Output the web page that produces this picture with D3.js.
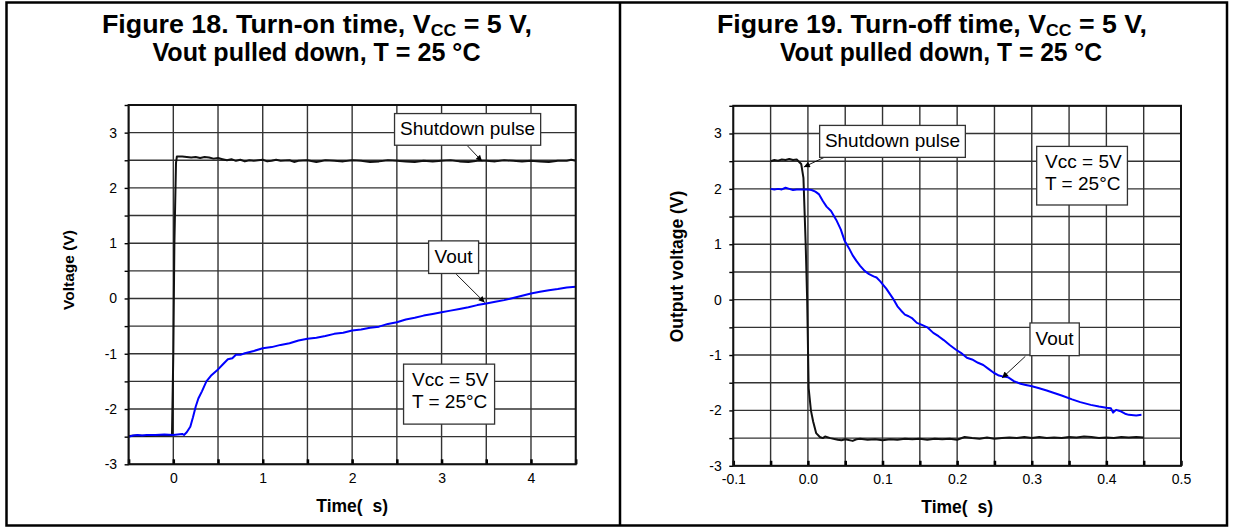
<!DOCTYPE html>
<html><head><meta charset="utf-8">
<script src="https://cdn.jsdelivr.net/npm/d3@7"></script>
<style>
body{margin:0;background:#fff}
svg{display:block}
text{font-family:"Liberation Sans",Arial,Helvetica,sans-serif}
</style></head>
<body><svg id="c" width="1237" height="527"></svg>
<script>
// ---------- DATA ----------
const yTickLabels = [-3, -2, -1, 0, 1, 2, 3];
const leftXTickLabels = [0, 1, 2, 3, 4];
const rightXTickLabels = [-0.1, 0.0, 0.1, 0.2, 0.3, 0.4, 0.5];

// Figure 18 (turn-on), time in µs
const leftShutT = [-0.5,-0.4,-0.3,-0.2,-0.1,-0.05,-0.015,0.0,0.012,0.03,0.04,0.1,0.15,0.2,0.25,0.3,0.35,0.4,0.45,0.5,0.55,0.6,0.65,0.7,0.75,0.8,0.85,0.9,0.95,1.0,1.05,1.1,1.15,1.2,1.3,1.35,1.4,1.5,1.6,1.7,1.8,1.9,2.0,2.1,2.2,2.3,2.4,2.5,2.6,2.7,2.8,2.9,3.0,3.1,3.2,3.3,3.4,3.5,3.6,3.7,3.8,3.9,4.0,4.1,4.2,4.3,4.4,4.45,4.5];
const leftShutV = [-2.49,-2.48,-2.49,-2.48,-2.48,-2.48,-2.47,-1.0,1.0,2.45,2.57,2.57,2.56,2.55,2.56,2.54,2.56,2.55,2.53,2.54,2.52,2.50,2.52,2.49,2.51,2.48,2.50,2.49,2.50,2.51,2.48,2.49,2.51,2.49,2.50,2.47,2.49,2.50,2.47,2.50,2.49,2.48,2.50,2.49,2.47,2.48,2.50,2.49,2.48,2.47,2.49,2.48,2.49,2.50,2.48,2.47,2.49,2.49,2.48,2.50,2.49,2.48,2.49,2.48,2.47,2.49,2.49,2.51,2.49];
const leftVoutT = [-0.5,-0.45,-0.4,-0.35,-0.3,-0.2,-0.1,0.0,0.05,0.1,0.12,0.15,0.19,0.22,0.25,0.28,0.32,0.37,0.42,0.49,0.55,0.61,0.66,0.7,0.75,0.8,0.9,1.0,1.1,1.2,1.3,1.4,1.5,1.6,1.7,1.8,1.9,2.0,2.1,2.2,2.3,2.4,2.5,2.6,2.7,2.8,2.9,3.0,3.1,3.2,3.3,3.4,3.5,3.6,3.7,3.8,3.9,4.0,4.1,4.2,4.3,4.4,4.5];
const leftVoutV = [-2.50,-2.48,-2.47,-2.48,-2.47,-2.47,-2.46,-2.47,-2.46,-2.45,-2.47,-2.42,-2.32,-2.15,-1.96,-1.81,-1.68,-1.50,-1.40,-1.30,-1.20,-1.10,-1.08,-1.02,-1.02,-0.99,-0.95,-0.90,-0.88,-0.84,-0.81,-0.76,-0.73,-0.71,-0.68,-0.64,-0.62,-0.58,-0.56,-0.53,-0.51,-0.46,-0.43,-0.38,-0.35,-0.31,-0.28,-0.25,-0.22,-0.19,-0.16,-0.12,-0.09,-0.06,-0.03,0.01,0.05,0.09,0.12,0.15,0.17,0.20,0.21];

// Figure 19 (turn-off)
const rightShutT = [-0.05,-0.045,-0.04,-0.035,-0.03,-0.025,-0.02,-0.015,-0.009,-0.006,-0.003,-0.001,0.001,0.004,0.007,0.011,0.016,0.02,0.023,0.03,0.04,0.045,0.05,0.06,0.065,0.07,0.08,0.09,0.1,0.11,0.12,0.13,0.14,0.15,0.16,0.17,0.18,0.19,0.2,0.21,0.22,0.23,0.24,0.25,0.26,0.27,0.28,0.29,0.3,0.31,0.32,0.33,0.34,0.35,0.36,0.37,0.38,0.39,0.4,0.41,0.42,0.43,0.44,0.45];
const rightShutV = [2.50,2.52,2.51,2.53,2.52,2.54,2.52,2.53,2.45,2.20,1.00,0.00,-1.60,-2.00,-2.20,-2.41,-2.48,-2.50,-2.47,-2.50,-2.53,-2.54,-2.52,-2.55,-2.52,-2.51,-2.53,-2.52,-2.54,-2.52,-2.53,-2.51,-2.52,-2.51,-2.53,-2.51,-2.52,-2.51,-2.53,-2.48,-2.50,-2.51,-2.49,-2.51,-2.50,-2.49,-2.50,-2.48,-2.50,-2.48,-2.50,-2.49,-2.50,-2.48,-2.49,-2.47,-2.48,-2.50,-2.49,-2.50,-2.48,-2.49,-2.48,-2.49];
const rightVoutT = [-0.05,-0.045,-0.04,-0.035,-0.03,-0.025,-0.02,-0.015,-0.01,-0.005,0.0,0.005,0.01,0.015,0.02,0.025,0.031,0.038,0.044,0.049,0.055,0.06,0.065,0.07,0.076,0.082,0.088,0.092,0.097,0.1,0.105,0.11,0.115,0.12,0.125,0.13,0.135,0.14,0.146,0.152,0.16,0.168,0.175,0.182,0.19,0.198,0.205,0.213,0.22,0.228,0.235,0.242,0.249,0.256,0.262,0.268,0.276,0.285,0.292,0.299,0.31,0.32,0.329,0.34,0.354,0.365,0.379,0.39,0.4,0.406,0.409,0.413,0.418,0.425,0.43,0.44,0.447];
const rightVoutV = [2.00,1.99,2.00,1.99,2.02,2.00,1.98,1.99,1.99,1.99,1.99,1.98,1.95,1.90,1.78,1.68,1.60,1.44,1.27,1.07,0.93,0.80,0.70,0.61,0.52,0.46,0.42,0.40,0.33,0.28,0.20,0.10,0.00,-0.12,-0.20,-0.27,-0.30,-0.34,-0.42,-0.45,-0.50,-0.60,-0.66,-0.73,-0.82,-0.90,-0.96,-1.05,-1.08,-1.14,-1.18,-1.25,-1.32,-1.37,-1.39,-1.40,-1.47,-1.52,-1.54,-1.56,-1.60,-1.64,-1.68,-1.73,-1.80,-1.85,-1.90,-1.93,-1.95,-1.96,-2.04,-1.99,-2.01,-2.06,-2.08,-2.09,-2.08];

// ---------- DRAW ----------
const svg = d3.select("#c");
const yDomain = [-3, 3.5];
const hyphen = f => d => f(d).replace("\u2212", "-");

// outer frame
const frame = svg.append("g").attr("stroke", "#000").attr("stroke-width", 2.5).attr("fill", "none");
frame.append("rect").attr("x", 6.5).attr("y", 2.5).attr("width", 1220.5).attr("height", 523);
frame.append("line").attr("x1", 620).attr("x2", 620).attr("y1", 2.5).attr("y2", 525.5);

// arrow marker
svg.append("defs").append("marker").attr("id", "ah")
  .attr("viewBox", "0 0 10 10").attr("refX", 10).attr("refY", 5)
  .attr("markerWidth", 8).attr("markerHeight", 6).attr("markerUnits", "userSpaceOnUse")
  .attr("orient", "auto")
  .append("path").attr("d", "M0,0L10,5L0,10z").attr("fill", "#000");

function drawPanel(cfg) {
  const g = svg.append("g");
  const x = d3.scaleLinear().domain(cfg.xDomain).range([cfg.left, cfg.right]);
  const y = d3.scaleLinear().domain(yDomain).range([cfg.bottom, cfg.top]);

  // title
  const t = g.append("text").attr("font-weight", "bold").attr("font-size", 25).attr("fill", "#000")
    .attr("x", cfg.t1x).attr("y", 32.5).attr("text-anchor", "middle")
    .attr("textLength", cfg.t1w).attr("lengthAdjust", "spacingAndGlyphs");
  t.append("tspan").text(cfg.titleA + "V");
  t.append("tspan").attr("font-size", 16.5).attr("dy", 3.5).text("CC");
  t.append("tspan").attr("dy", -3.5).text(" = 5 V,");
  g.append("text").attr("font-weight", "bold").attr("font-size", 25)
    .attr("x", cfg.t2x).attr("y", 60.5).attr("text-anchor", "middle")
    .attr("textLength", cfg.t2w).attr("lengthAdjust", "spacingAndGlyphs")
    .text("Vout pulled down, T = 25 °C");

  // grid
  const gx = cfg.gridX, gy = d3.range(-3, 3.5001, 0.5);
  g.append("g").selectAll("line").data(gx).join("line")
    .attr("x1", d => x(d)).attr("x2", d => x(d)).attr("y1", cfg.top).attr("y2", cfg.bottom)
    .attr("stroke", "#333").attr("stroke-width", 1.4);
  g.append("g").selectAll("line").data(gy).join("line")
    .attr("x1", cfg.left).attr("x2", cfg.right).attr("y1", d => y(d)).attr("y2", d => y(d))
    .attr("stroke", "#333").attr("stroke-width", 1.4);

  // tick marks
  const tb = g.append("g").attr("transform", `translate(0,${cfg.bottom})`)
    .call(d3.axisBottom(x).tickValues(gx).tickSize(-5).tickFormat(""));
  tb.select(".domain").remove();
  tb.selectAll("line").attr("stroke", "#000").attr("stroke-width", 2.5);
  const tl = g.append("g").attr("transform", `translate(${cfg.left},0)`)
    .call(d3.axisLeft(y).tickValues(gy).tickSize(4).tickFormat(""));
  tl.select(".domain").remove();
  tl.selectAll("line").attr("stroke", "#000").attr("stroke-width", 1.4);

  // labels
  const lb = g.append("g").attr("transform", `translate(0,${cfg.bottom})`)
    .call(d3.axisBottom(x).tickValues(cfg.xLabels).tickSize(0).tickPadding(8.5).tickFormat(hyphen(cfg.xFmt)));
  lb.select(".domain").remove();
  lb.selectAll("text").attr("font-size", 14).attr("font-family", "Liberation Sans, Arial, sans-serif").attr("fill", "#000");
  const ll = g.append("g").attr("transform", `translate(${cfg.left},0)`)
    .call(d3.axisLeft(y).tickValues(yTickLabels).tickSize(0).tickPadding(11.5).tickFormat(hyphen(d3.format("d"))));
  ll.select(".domain").remove();
  ll.selectAll("text").attr("font-size", 14).attr("font-family", "Liberation Sans, Arial, sans-serif").attr("fill", "#000");

  // axis titles
  g.append("text").attr("font-weight", "bold").attr("font-size", 17.5)
    .attr("x", (cfg.left + cfg.right) / 2).attr("y", cfg.bottom + 47.5).attr("text-anchor", "middle")
    .style("white-space", "pre").text("Time(  s)");
  g.append("text").attr("font-weight", "bold").attr("font-size", cfg.yTitleSize)
    .attr("transform", `translate(${cfg.yTitleX},${cfg.yTitleY}) rotate(-90)`).attr("text-anchor", "middle")
    .text(cfg.yTitle);

  // curves
  const line = d3.line().x(d => x(d[0])).y(d => y(d[1]));
  cfg.series.forEach(s => {
    g.append("path").datum(d3.zip(s.t, s.v)).attr("d", line)
      .attr("fill", "none").attr("stroke", s.color).attr("stroke-width", 2).attr("stroke-linejoin", "round");
  });

  // plot frame
  g.append("rect").attr("x", cfg.left).attr("y", cfg.top)
    .attr("width", cfg.right - cfg.left).attr("height", cfg.bottom - cfg.top)
    .attr("fill", "none").attr("stroke", "#111").attr("stroke-width", 2);

  // annotations
  cfg.notes.forEach(n => {
    const x0 = x(n.box[0]), x1 = x(n.box[1]), y0 = y(n.box[3]), y1 = y(n.box[2]);
    if (n.arrow) {
      g.append("line").attr("x1", x(n.arrow[0])).attr("y1", y(n.arrow[1]))
        .attr("x2", x(n.arrow[2])).attr("y2", y(n.arrow[3]))
        .attr("stroke", "#000").attr("stroke-width", 0.9).attr("marker-end", "url(#ah)");
    }
    g.append("rect").attr("x", x0).attr("y", y0).attr("width", x1 - x0).attr("height", y1 - y0)
      .attr("fill", "#fff").attr("stroke", "#333").attr("stroke-width", 1.3);
    n.lines.forEach((txt, i) => {
      g.append("text").attr("font-size", 19).attr("fill", "#000")
        .attr("x", n.align === "start" ? x0 + 8.4 : (x0 + x1) / 2)
        .attr("y", y0 + 21.8 + i * 21.7)
        .attr("text-anchor", n.align || "middle").text(txt);
    });
  });
}

drawPanel({
  xDomain: [-0.5, 4.5], left: 128.6, right: 575.7, top: 105, bottom: 464.3,
  gridX: d3.range(-0.5, 4.5001, 0.5), xLabels: leftXTickLabels, xFmt: d3.format("d"),
  titleA: "Figure 18. Turn-on time, ", t1x: 317, t1w: 430, t2x: 316.5, t2w: 328,
  yTitle: "Voltage (V)", yTitleSize: 15.5, yTitleX: 74, yTitleY: 270,
  series: [
    { t: leftShutT, v: leftShutV, color: "#111" },
    { t: leftVoutT, v: leftVoutV, color: "#0000ff" }
  ],
  notes: [
    { lines: ["Shutdown pulse"], box: [2.474, 4.108, 2.772, 3.345], arrow: [3.291, 2.759, 3.452, 2.483] },
    { lines: ["Vout"], box: [2.855, 3.414, 0.452, 1.042], arrow: [3.164, 0.439, 3.482, -0.072] },
    { lines: ["Vcc = 5V", "T = 25°C"], box: [2.575, 3.593, -2.273, -1.188], align: "start" }
  ]
});

drawPanel({
  xDomain: [-0.1, 0.5], left: 733.3, right: 1181, top: 105.8, bottom: 465.8,
  gridX: d3.range(-0.1, 0.5001, 0.05), xLabels: rightXTickLabels, xFmt: d3.format(".1f"),
  titleA: "Figure 19. Turn-off time, ", t1x: 932, t1w: 430, t2x: 941, t2w: 322,
  yTitle: "Output voltage (V)", yTitleSize: 17.5, yTitleX: 682.5, yTitleY: 266.5,
  series: [
    { t: rightShutT, v: rightShutV, color: "#111" },
    { t: rightVoutT, v: rightVoutV, color: "#0000ff" }
  ],
  notes: [
    { lines: ["Shutdown pulse"], box: [0.0157, 0.211, 2.569, 3.146], arrow: [0.0247, 2.587, -0.0054, 2.395] },
    { lines: ["Vcc = 5V", "T = 25°C"], box: [0.3066, 0.4282, 1.709, 2.767], align: "start" },
    { lines: ["Vout"], box: [0.2976, 0.3637, -1.011, -0.421], arrow: [0.2914, -1.023, 0.2603, -1.413] }
  ]
});
</script></body></html>
